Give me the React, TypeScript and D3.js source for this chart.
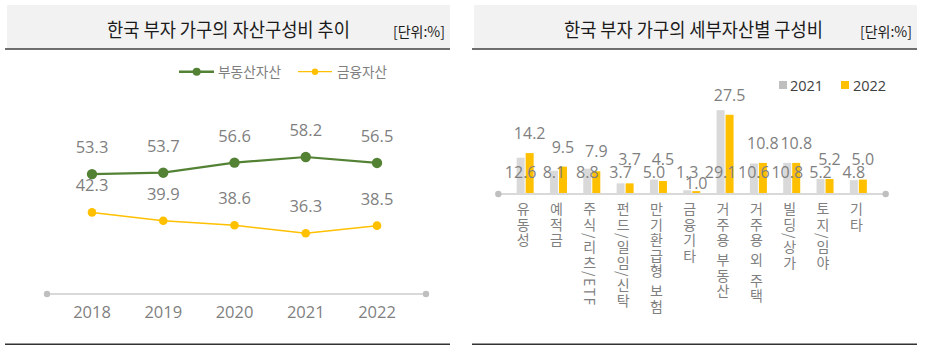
import React from "react";
import * as d3 from "d3";

const years = ["2018", "2019", "2020", "2021", "2022"];
const realEstate = [53.3, 53.7, 56.6, 58.2, 56.5];
const financial = [42.3, 39.9, 38.6, 36.3, 38.5];
const lineSeriesNames = ["부동산자산", "금융자산"];

const categories = [
  "유동성",
  "예적금",
  "주식/리츠/ETF",
  "펀드/일임/신탁",
  "만기환급형 보험",
  "금융기타",
  "거주용 부동산",
  "거주용 외 주택",
  "빌딩/상가",
  "토지/임야",
  "기타",
];
const values2021 = [12.6, 8.1, 8.8, 3.7, 5.0, 1.3, 29.1, 10.6, 10.8, 5.2, 4.8];
const values2022 = [14.2, 9.5, 7.9, 3.7, 4.5, 1.0, 27.5, 10.8, 10.8, 5.2, 5.0];
const barSeriesNames = ["2021", "2022"];

const titleLeft = "한국 부자 가구의 자산구성비 추이";
const titleRight = "한국 부자 가구의 세부자산별 구성비";
const unitText = "[단위:%]";

const KR = "'Noto Sans CJK KR', 'Noto Sans', sans-serif";
const NUM = "'Open Sans', 'Noto Sans', sans-serif";
const GREEN = "#548235";
const YELLOW = "#ffc000";
const GRAYBAR = "#d9d9d9";
const LABEL = "#7f7f7f";

export default function App() {
  // line chart scales
  const xL = d3.scalePoint<string>().domain(years).range([92, 377]);
  const yL = d3.scaleLinear().domain([20, 70]).range([290.1, 115.9]);
  const lineGen = d3
    .line<number>()
    .x((_, i) => xL(years[i]) as number)
    .y((d) => yL(d));

  // bar chart scales
  const xB = d3.scaleBand<string>().domain(categories).range([508.5, 875]).paddingInner(0);
  const yB = d3.scaleLinear().domain([0, 30]).range([194, 107.6]);
  const bw = 8;

  const label2022Y = (v: number) => {
    const y = yB(v) - 20;
    if (y > 168) return 183;
    return Math.min(y, 159);
  };

  const panel = (x0: number, x1: number, title: string, tx: number, tw: number, ux: number) => (
    <g>
      <rect x={x0} y={5} width={x1 - x0} height={43.5} fill="#f2f2f2" />
      <line x1={x0 - 2} x2={x1} y1={49} y2={49} stroke="#404040" strokeWidth={1.5} />
      <text x={tx} y={37} fontFamily={KR} fontSize={19} fill="#1a1a1a" textLength={tw} lengthAdjust="spacingAndGlyphs">
        {title}
      </text>
      <text x={ux} y={37} fontFamily={KR} fontSize={14} fill="#1a1a1a" textLength={52} lengthAdjust="spacingAndGlyphs">
        {unitText}
      </text>
      <line x1={x0 - 2} x2={x1} y1={344.3} y2={344.3} stroke="#333" strokeWidth={1.5} />
    </g>
  );

  return (
    <svg width={936} height={355} style={{ position: "absolute", left: 0, top: 0 }}>
      <rect width={936} height={355} fill="#fff" />
      {panel(7, 450, titleLeft, 107, 243, 393)}
      {panel(474, 917, titleRight, 564, 259, 860)}

      {/* left legend */}
      <g>
        <line x1={179} x2={214} y1={71.7} y2={71.7} stroke={GREEN} strokeWidth={2.5} />
        <circle cx={196.7} cy={71.7} r={4} fill={GREEN} />
        <text x={218} y={76.5} fontFamily={KR} fontSize={14} fill={LABEL} textLength={63} lengthAdjust="spacingAndGlyphs">
          {lineSeriesNames[0]}
        </text>
        <line x1={298} x2={332} y1={71.7} y2={71.7} stroke={YELLOW} strokeWidth={1.2} />
        <circle cx={315} cy={71.7} r={3.2} fill={YELLOW} />
        <text x={337} y={76.5} fontFamily={KR} fontSize={14} fill={LABEL} textLength={50} lengthAdjust="spacingAndGlyphs">
          {lineSeriesNames[1]}
        </text>
      </g>

      {/* left axis */}
      <line x1={47} x2={426} y1={294} y2={294} stroke="#d9d9d9" strokeWidth={2} />
      <circle cx={47} cy={294} r={3.2} fill="#bfbfbf" />
      <circle cx={426} cy={294} r={3.2} fill="#bfbfbf" />
      {years.map((yr) => (
        <text key={yr} x={xL(yr)} y={317.5} textAnchor="middle" fontFamily={NUM} fontSize={16.5} fill={LABEL}>
          {yr}
        </text>
      ))}

      {/* lines */}
      <path d={lineGen(financial) || ""} fill="none" stroke={YELLOW} strokeWidth={1.5} />
      <path d={lineGen(realEstate) || ""} fill="none" stroke={GREEN} strokeWidth={2.2} />
      {financial.map((v, i) => (
        <g key={"f" + i}>
          <circle cx={xL(years[i])} cy={yL(v)} r={4.3} fill={YELLOW} />
          <text x={xL(years[i])} y={yL(v) - 21} textAnchor="middle" fontFamily={NUM} fontSize={16.5} fill={LABEL}>
            {v.toFixed(1)}
          </text>
        </g>
      ))}
      {realEstate.map((v, i) => (
        <g key={"r" + i}>
          <circle cx={xL(years[i])} cy={yL(v)} r={5.2} fill={GREEN} />
          <text x={xL(years[i])} y={yL(v) - 21} textAnchor="middle" fontFamily={NUM} fontSize={16.5} fill={LABEL}>
            {v.toFixed(1)}
          </text>
        </g>
      ))}

      {/* right legend */}
      <rect x={779} y={81} width={8} height={8} fill="#bfbfbf" />
      <text x={790} y={90.5} fontFamily={NUM} fontSize={14.5} fill="#404040">
        {barSeriesNames[0]}
      </text>
      <rect x={841} y={81} width={8} height={8} fill={YELLOW} />
      <text x={853} y={90.5} fontFamily={NUM} fontSize={14.5} fill="#404040">
        {barSeriesNames[1]}
      </text>

      {/* bars */}
      {categories.map((c, i) => {
        const cx = (xB(c) as number) + xB.bandwidth() / 2;
        return (
          <g key={c}>
            <rect x={cx - bw - 0.5} y={yB(values2021[i])} width={bw} height={yB(0) - yB(values2021[i])} fill={GRAYBAR} />
            <rect x={cx + 0.5} y={yB(values2022[i])} width={bw} height={yB(0) - yB(values2022[i])} fill={YELLOW} />
          </g>
        );
      })}
      <line x1={498.3} x2={885.7} y1={194} y2={194} stroke="#d9d9d9" strokeWidth={2} />
      <circle cx={498.3} cy={194} r={3.2} fill="#bfbfbf" />
      <circle cx={885.7} cy={194} r={3.2} fill="#bfbfbf" />
      {categories.map((c, i) => {
        const cx = (xB(c) as number) + xB.bandwidth() / 2;
        return (
          <g key={"l" + c}>
            <text x={cx - 4.5} y={178} textAnchor="middle" fontFamily={NUM} fontSize={16} fill={LABEL}>
              {values2021[i].toFixed(1)}
            </text>
            <text x={cx + 4.5} y={label2022Y(values2022[i]) + 6} textAnchor="middle" fontFamily={NUM} fontSize={16} fill={LABEL}>
              {values2022[i].toFixed(1)}
            </text>
            <text
              x={cx - 2}
              y={202}
              fontFamily={KR}
              fontSize={14}
              fill={LABEL}
              letterSpacing={1.5}
              style={{ writingMode: "vertical-rl" as any }}
            >
              {c}
            </text>
          </g>
        );
      })}
    </svg>
  );
}
